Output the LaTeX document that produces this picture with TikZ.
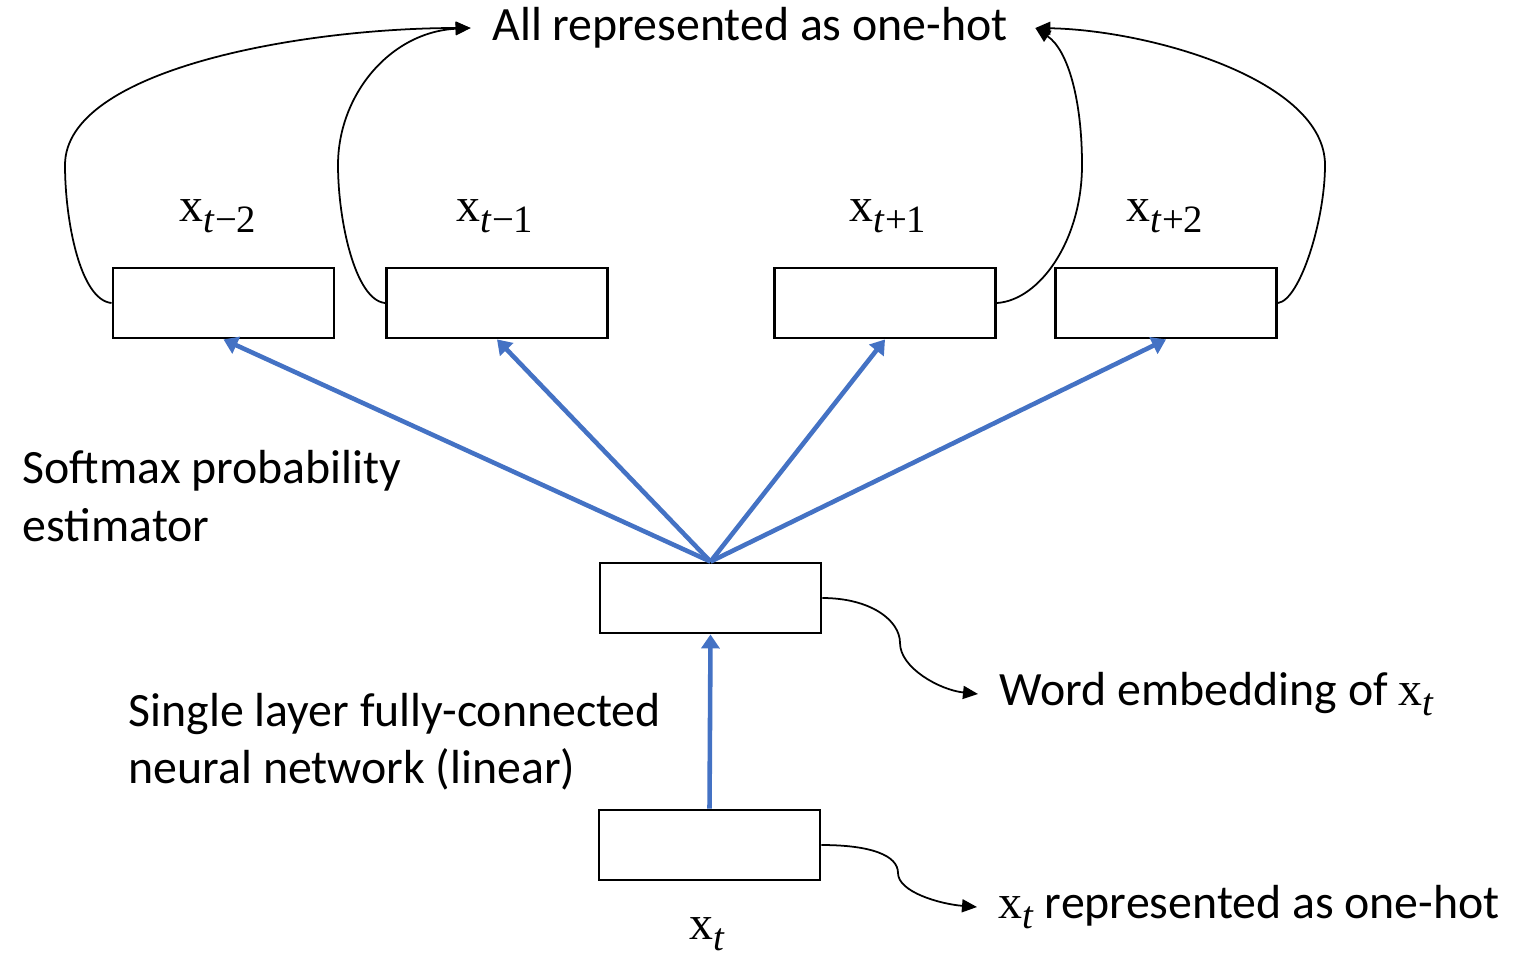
\documentclass[tikz,border=0pt]{standalone}
\usepackage{fontspec}
\setmainfont{Carlito}
\newfontfamily\serifx{Liberation Serif}
\usetikzlibrary{arrows.meta}
\definecolor{arrowblue}{HTML}{4472C4}
% word symbol x with a lowered subscript
\newcommand{\wx}[1]{{\serifx x\raisebox{-0.22em}{\fontsize{11}{12}\selectfont #1}}}
\tikzset{
  cell/.style={draw=black, line width=0.8pt, minimum width=2.21cm,
               minimum height=0.70cm, inner sep=0pt},
  txt/.style={font=\fontsize{13.6}{16.3}\selectfont, inner sep=0pt},
  padtxt/.style={txt, inner sep=0.21cm},
  feed/.style={draw=arrowblue, line width=1.3pt,
               -{Triangle[length=0.14cm,width=0.18cm]}},
  link/.style={draw=black, line width=0.5pt,
               -{Triangle[length=0.15cm,width=0.13cm]}},
}
\begin{document}
\begin{tikzpicture}[x=0.01cm, y=-0.01cm]
\useasboundingbox (0,0) rectangle (1516,954);

% output (context) words
\node[cell] (b1) at (223.5,303) {};
\node[cell] (b2) at (497,303) {};
\node[cell] (b3) at (885,303) {};
\node[cell] (b4) at (1166,303) {};
\node[txt] (l1) at (218,216) {\wx{\textit{t}−2}};
\node[txt] (l2) at (495,216) {\wx{\textit{t}−1}};
\node[txt] (l3) at (888,216) {\wx{\textit{t}+1}};
\node[txt] (l4) at (1165,216) {\wx{\textit{t}+2}};

% hidden layer and input word
\node[cell] (hid) at (710.5,598) {};
\node[cell] (inp) at (709.5,845) {};
\node[txt] (lxt) at (707,934) {\wx{\textit{t}}};

% descriptions
\node[padtxt] (top) at (750,28) {All represented as one-hot};
\node[txt, align=left, anchor=west] (soft) at (22,496)
  {Softmax probability\\estimator};
\node[txt, align=left, anchor=west] (slfc) at (128,742)
  {Single layer fully-connected\\neural network (linear)};
\node[padtxt, anchor=west] (emb) at (978,694) {Word embedding of \wx{\textit{t}}};
\node[padtxt, anchor=west] (onehot) at (977,907) {\wx{\textit{t}} represented as one-hot};

% network connections
\draw[feed] (inp.north) -- (hid.south);
\draw[feed] (hid.north) -- (b1.south);
\draw[feed] (hid.north) -- (b2.south);
\draw[feed] (hid.north) -- (b3.south);
\draw[feed] (hid.north) -- (b4.south);

% pointers to the description texts
\draw[link] (b1.west) .. controls (80,300) and (65,220) .. (65,165)
            .. controls (65,70) and (300,28) .. (top.west);
\draw[link] (b2.west) .. controls (355,300) and (338,220) .. (338,165)
            .. controls (338,95) and (390,32) .. (top.west);
\draw[link] (b3.east) .. controls (1040,300) and (1082,240) .. (1082,165)
            .. controls (1082,100) and (1068,50) .. ([xshift=0.06cm]top.east);
\draw[link] (b4.east) .. controls (1300,300) and (1325,220) .. (1325,165)
            .. controls (1325,80) and (1150,30) .. ([xshift=0.06cm]top.east);
\draw[link] (hid.east) .. controls (870,598) and (900,620) .. (900,643)
            .. controls (900,668) and (940,690) .. (emb.west);
\draw[link] (inp.east) .. controls (870,845) and (898,855) .. (898,873)
            .. controls (898,892) and (940,904) .. (onehot.west);
\end{tikzpicture}
\end{document}
